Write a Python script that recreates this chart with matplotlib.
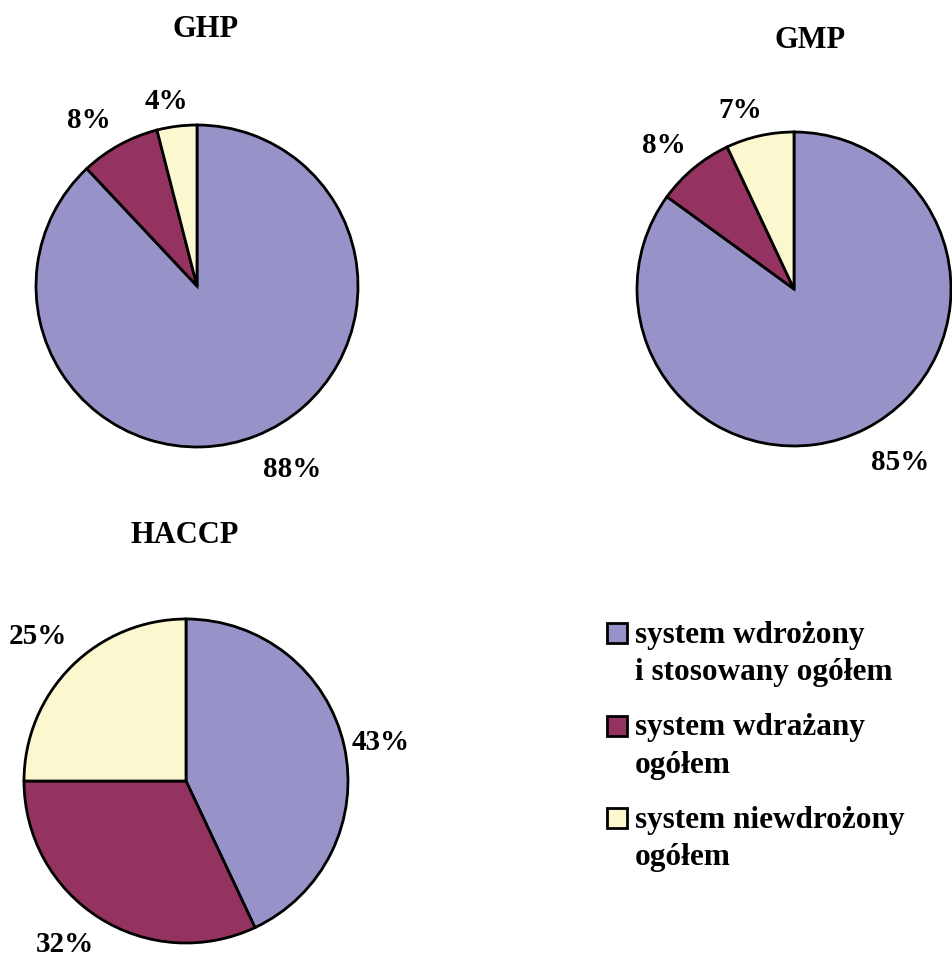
import matplotlib
matplotlib.use("Agg")
import matplotlib.pyplot as plt
from matplotlib.patches import Rectangle

# ---- data ----
categories = ["system wdrożony\ni stosowany ogółem",
              "system wdrażany\nogółem",
              "system niewdrożony\nogółem"]
ghp_values = [88, 8, 4]
gmp_values = [85, 8, 7]
haccp_values = [43, 32, 25]
titles = ["GHP", "GMP", "HACCP"]
colors = ["#9793C8", "#94335F", "#FBF8D0"]

W, H = 952, 956
plt.rcParams['font.family'] = ['Liberation Serif', 'DejaVu Serif']
plt.rcParams['font.weight'] = 'bold'

fig = plt.figure(figsize=(W / 100, H / 100), dpi=100)
ax = fig.add_axes([0, 0, 1, 1])
ax.set_xlim(0, W)
ax.set_ylim(0, H)
ax.set_aspect('equal')
ax.axis('off')


def Y(py):
    return H - py


# layout per pie: center (px), radius, title position, label positions
pies = [
    dict(values=ghp_values, title=titles[0], center=(197, 286), r=161,
         title_xy=(206, 26),
         label_xy=[(292, 466), (89, 117), (166, 98)]),
    dict(values=gmp_values, title=titles[1], center=(794, 289), r=157,
         title_xy=(810, 37),
         label_xy=[(900, 459), (664, 142), (740, 107)]),
    dict(values=haccp_values, title=titles[2], center=(186, 781), r=162,
         title_xy=(185, 532),
         label_xy=[(381, 740), (65, 941), (38, 634)]),
]

for p in pies:
    cx, cy = p["center"]
    ax.pie(p["values"], colors=colors, startangle=90, counterclock=False,
           center=(cx, Y(cy)), radius=p["r"], frame=True,
           wedgeprops=dict(edgecolor='black', linewidth=2.0))
    ax.text(p["title_xy"][0], Y(p["title_xy"][1]), p["title"],
            ha='center', va='center_baseline', fontsize=22, fontweight='bold')
    for v, (lx, ly) in zip(p["values"], p["label_xy"]):
        ax.text(lx, Y(ly), f"{v}%", ha='center', va='center_baseline',
                fontsize=21, fontweight='bold')

ax.set_xlim(0, W)
ax.set_ylim(0, H)
ax.axis('off')

# legend (manual, to keep square aligned with first text line)
leg_x_sq, leg_x_txt = 607, 635
leg_y0, leg_dy = 633, 92.5
sq = 20
for i, (lab, col) in enumerate(zip(categories, colors)):
    yc = leg_y0 + i * leg_dy
    ax.add_patch(Rectangle((leg_x_sq, Y(yc + sq / 2)), sq, sq,
                           facecolor=col, edgecolor='black', linewidth=2.0))
    ax.text(leg_x_txt, Y(yc - 12), lab, ha='left', va='top', fontsize=22.5,
            fontweight='bold', linespacing=1.38)

fig.savefig("out.png", dpi=100)
